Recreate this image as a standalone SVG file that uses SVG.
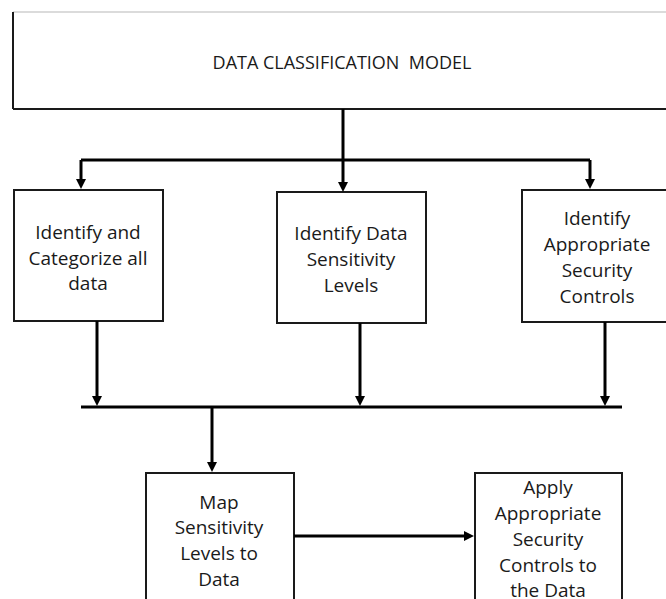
<svg xmlns="http://www.w3.org/2000/svg" width="666" height="599" viewBox="0 0 666 599">
  <style>
    .box { fill: #ffffff; stroke: #1a1a1a; stroke-width: 2; }
    .lbl { font-family: "Open Sans", "Noto Sans", "Liberation Sans", sans-serif; font-size: 19px; fill: #1a1a1a; text-anchor: middle; }
    .title { font-family: "Open Sans", "Noto Sans", "Liberation Sans", sans-serif; font-size: 18px; fill: #1a1a1a; text-anchor: middle; }
    .conn { stroke: #000000; stroke-width: 3; fill: none; }
    .arr { stroke: #000000; stroke-width: 3; fill: none; marker-end: url(#ah); }
  </style>
  <defs>
    <marker id="ah" markerUnits="userSpaceOnUse" markerWidth="11" markerHeight="11" refX="4" refY="5" orient="auto">
      <path d="M0,0 L10,5 L0,10 z" fill="#000000"/>
    </marker>
  </defs>
  <rect x="0" y="0" width="666" height="599" fill="#ffffff"/>

  <g id="model">
    <rect x="13" y="12" width="670" height="97" fill="#ffffff"/>
    <line x1="13" y1="12" x2="666" y2="12" stroke="#cfcfcf" stroke-width="1.5"/>
    <line x1="13" y1="12" x2="13" y2="109" stroke="#1a1a1a" stroke-width="2"/>
    <line x1="13" y1="109" x2="666" y2="109" stroke="#1a1a1a" stroke-width="2"/>
    <text class="title" x="342" y="69" xml:space="preserve">DATA CLASSIFICATION  MODEL</text>
  </g>

  <g id="identify-categorize">
    <rect class="box" x="14" y="190" width="149" height="131"/>
    <text class="lbl" x="88" y="239">Identify and</text>
    <text class="lbl" x="88" y="265">Categorize all</text>
    <text class="lbl" x="88" y="290">data</text>
  </g>

  <g id="identify-sensitivity">
    <rect class="box" x="277" y="192" width="149" height="131"/>
    <text class="lbl" x="351" y="240">Identify Data</text>
    <text class="lbl" x="351" y="266">Sensitivity</text>
    <text class="lbl" x="351" y="292">Levels</text>
  </g>

  <g id="identify-controls">
    <rect class="box" x="522" y="190" width="160" height="132"/>
    <text class="lbl" x="597" y="225">Identify</text>
    <text class="lbl" x="597" y="251">Appropriate</text>
    <text class="lbl" x="597" y="277">Security</text>
    <text class="lbl" x="597" y="303">Controls</text>
  </g>

  <g id="map-levels">
    <rect class="box" x="146" y="473" width="148" height="140"/>
    <text class="lbl" x="219" y="509">Map</text>
    <text class="lbl" x="219" y="534">Sensitivity</text>
    <text class="lbl" x="219" y="560">Levels to</text>
    <text class="lbl" x="219" y="586">Data</text>
  </g>

  <g id="apply-controls">
    <rect class="box" x="475" y="473" width="147" height="140"/>
    <text class="lbl" x="548" y="494">Apply</text>
    <text class="lbl" x="548" y="520">Appropriate</text>
    <text class="lbl" x="548" y="546">Security</text>
    <text class="lbl" x="548" y="572">Controls to</text>
    <text class="lbl" x="548" y="597">the Data</text>
  </g>

  <g id="connectors">
    <path class="arr" d="M343,109 L343,186"/>
    <path class="conn" d="M81,160 L590,160"/>
    <path class="arr" d="M81,160 L81,183"/>
    <path class="arr" d="M590,160 L590,183"/>
    <path class="arr" d="M97,321 L97,400"/>
    <path class="arr" d="M360,323 L360,400"/>
    <path class="arr" d="M605,322 L605,400"/>
    <path class="conn" d="M81,407 L622,407"/>
    <path class="arr" d="M212,407 L212,466"/>
    <path class="arr" d="M294,536 L468,536"/>
  </g>
</svg>
